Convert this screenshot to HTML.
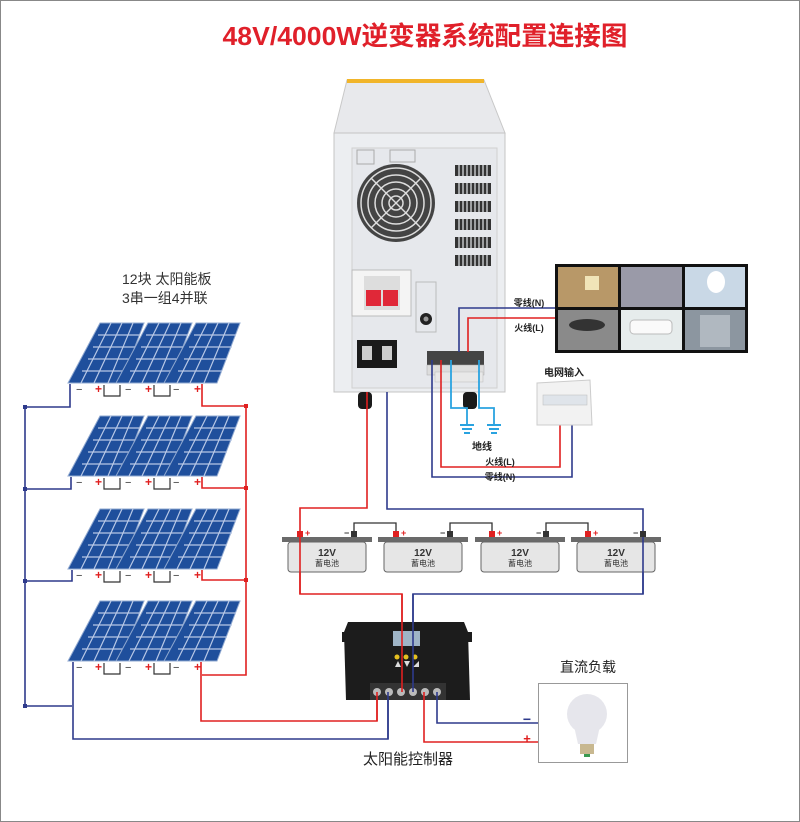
<!DOCTYPE html>
<html><head><meta charset="utf-8"><style>
html,body{margin:0;padding:0;background:#fff}
svg{display:block}
text{font-family:"Liberation Sans","Noto Sans CJK SC",sans-serif}
</style></head><body>
<svg width="800" height="822" viewBox="0 0 800 822" xmlns="http://www.w3.org/2000/svg">
<defs>
<g id="pv">
<polygon points="32,0 76,0 53,60 0,60" fill="#1f4f9c" stroke="#8fa8d0" stroke-width="1"/>
<g stroke="#b8c8e6" stroke-width="1.2" fill="none">
<line x1="30" y1="12" x2="72" y2="12"/><line x1="25" y1="24" x2="68" y2="24"/>
<line x1="20" y1="36" x2="63" y2="36"/><line x1="14" y1="48" x2="58" y2="48"/>
<line x1="43" y1="0" x2="13" y2="60"/><line x1="54" y1="0" x2="26" y2="60"/><line x1="65" y1="0" x2="40" y2="60"/>
</g>
</g>
<g id="row">
<use href="#pv" x="0" y="0"/><use href="#pv" x="48" y="0"/><use href="#pv" x="96" y="0"/>
<text x="8" y="70" font-size="11" fill="#333">−</text><text x="27" y="70" font-size="12" fill="#e02020" font-weight="bold">+</text>
<text x="57" y="70" font-size="11" fill="#333">−</text><text x="77" y="70" font-size="12" fill="#e02020" font-weight="bold">+</text>
<text x="105" y="70" font-size="11" fill="#333">−</text><text x="126" y="70" font-size="12" fill="#e02020" font-weight="bold">+</text>
<polyline points="36,62 36,73 52,73 52,62" fill="none" stroke="#333" stroke-width="1.2"/>
<polyline points="86,62 86,73 102,73 102,62" fill="none" stroke="#333" stroke-width="1.2"/>
</g>
<g id="batt">
<rect x="0" y="0" width="90" height="5" fill="#6a6a6a"/>
<rect x="6" y="5" width="78" height="30" rx="3" fill="#e6e6e6" stroke="#666" stroke-width="1"/>
</g>
<g id="gnd" stroke="#2aa3e0" stroke-width="2"><line x1="-7" y1="0" x2="7" y2="0"/><line x1="-5" y1="4" x2="5" y2="4"/><line x1="-3" y1="8" x2="3" y2="8"/></g>
</defs>
<rect x="0.5" y="0.5" width="799" height="821" fill="#fff" stroke="#888"/>
<text x="425" y="45" font-size="26" font-weight="bold" fill="#e0202a" text-anchor="middle" textLength="405" lengthAdjust="spacingAndGlyphs">48V/4000W逆变器系统配置连接图</text>

<text x="122" y="284" font-size="14" fill="#333">12块  太阳能板</text>
<text x="122" y="303" font-size="14" fill="#333">3串一组4并联</text>

<!-- solar -->
<use href="#row" x="68" y="323"/><use href="#row" x="68" y="416"/><use href="#row" x="68" y="509"/><use href="#row" x="68" y="601"/>
<g fill="none" stroke="#2e3a8c" stroke-width="1.6">
<polyline points="70,384 70,407 25,407 25,706 72,706"/>
<polyline points="71,477 71,489 25,489"/><polyline points="72,570 72,581 25,581"/>
<polyline points="73,662 73,739 388,739 388,700"/>
</g>
<g fill="#2e3a8c"><rect x="23" y="405" width="4" height="4"/><rect x="23" y="487" width="4" height="4"/><rect x="23" y="579" width="4" height="4"/><rect x="23" y="704" width="4" height="4"/></g>
<g fill="none" stroke="#e02020" stroke-width="1.6">
<polyline points="202,384 202,406 246,406 246,675 202,675"/>
<polyline points="202,477 202,488 246,488"/><polyline points="202,570 202,580 246,580"/>
<polyline points="201,662 201,721 377,721 377,700"/>
</g>
<g fill="#e02020"><rect x="244" y="404" width="4" height="4"/><rect x="244" y="486" width="4" height="4"/><rect x="244" y="578" width="4" height="4"/></g>

<!-- inverter -->
<polygon points="347,80 484,80 505,133 334,133" fill="#e8e9ec" stroke="#c8c8c8"/>
<rect x="347" y="79" width="137" height="4" fill="#f1b52a"/>
<rect x="334" y="133" width="171" height="259" fill="#eceef1" stroke="#c4c4c4"/>
<rect x="352" y="148" width="145" height="240" fill="#e6e8ec" stroke="#d0d0d0"/>
<rect x="357" y="150" width="17" height="14" fill="none" stroke="#aaa"/><rect x="390" y="150" width="25" height="12" fill="none" stroke="#aaa"/>
<circle cx="396" cy="203" r="39" fill="#444"/>
<g fill="none" stroke="#ddd" stroke-width="1.5"><circle cx="396" cy="203" r="35"/><circle cx="396" cy="203" r="28"/><circle cx="396" cy="203" r="21"/><circle cx="396" cy="203" r="14"/><circle cx="396" cy="203" r="7"/>
<line x1="371" y1="178" x2="421" y2="228"/><line x1="421" y1="178" x2="371" y2="228"/></g>
<g fill="#333">
<rect x="455" y="165" width="36" height="11"/><rect x="455" y="183" width="36" height="11"/><rect x="455" y="201" width="36" height="11"/>
<rect x="455" y="219" width="36" height="11"/><rect x="455" y="237" width="36" height="11"/><rect x="455" y="255" width="36" height="11"/>
</g>
<g stroke="#e6e8ec" stroke-width="1.2">
<line x1="459" y1="160" x2="459" y2="270"/><line x1="463" y1="160" x2="463" y2="270"/><line x1="467" y1="160" x2="467" y2="270"/><line x1="471" y1="160" x2="471" y2="270"/><line x1="475" y1="160" x2="475" y2="270"/><line x1="479" y1="160" x2="479" y2="270"/><line x1="483" y1="160" x2="483" y2="270"/><line x1="487" y1="160" x2="487" y2="270"/>
</g>
<rect x="352" y="270" width="59" height="46" fill="#f4f4f4" stroke="#bbb"/>
<rect x="364" y="276" width="36" height="34" fill="#ddd"/>
<rect x="366" y="290" width="15" height="16" fill="#e02838"/><rect x="383" y="290" width="15" height="16" fill="#e02838"/>
<rect x="416" y="282" width="20" height="50" fill="none" stroke="#bbb"/>
<circle cx="426" cy="319" r="6" fill="#222"/><circle cx="426" cy="319" r="2.5" fill="#999"/>
<rect x="357" y="340" width="40" height="28" fill="#1a1a1a"/>
<rect x="362" y="346" width="10" height="14" fill="#ccc"/><rect x="382" y="346" width="10" height="14" fill="#ccc"/>
<rect x="427" y="351" width="57" height="14" fill="#444"/>
<rect x="427" y="365" width="57" height="10" fill="#ddd" stroke="#aaa" stroke-width="0.5"/>
<rect x="435" y="372" width="48" height="10" fill="#e8e8e8" stroke="#bbb" stroke-width="0.5"/>
<rect x="358" y="392" width="14" height="17" rx="4" fill="#1a1a1a"/><rect x="463" y="392" width="14" height="17" rx="4" fill="#1a1a1a"/>

<!-- load images -->
<rect x="555" y="264" width="193" height="89" fill="#111"/>
<rect x="558" y="267" width="60" height="40" fill="#b89868"/><rect x="621" y="267" width="61" height="40" fill="#9a9aa8"/><rect x="685" y="267" width="60" height="40" fill="#c9d8e6"/>
<rect x="558" y="310" width="60" height="40" fill="#8a8a8a"/><rect x="621" y="310" width="61" height="40" fill="#e6ecec"/><rect x="685" y="310" width="60" height="40" fill="#8c96a0"/>
<ellipse cx="587" cy="325" rx="18" ry="6" fill="#333"/><rect x="630" y="320" width="42" height="14" rx="4" fill="#fafafa" stroke="#bbb"/>
<rect x="700" y="315" width="30" height="32" fill="#b0b8c0"/><ellipse cx="716" cy="282" rx="9" ry="11" fill="#fff"/><rect x="585" y="276" width="14" height="14" fill="#f0e4b8"/>

<!-- AC wires -->
<polyline points="459,352 459,308 555,308" fill="none" stroke="#2e3a8c" stroke-width="1.6"/>
<polyline points="468,352 468,318 555,318" fill="none" stroke="#e02020" stroke-width="1.6"/>
<text x="529" y="306" font-size="9" font-weight="bold" fill="#222" text-anchor="middle">零线(N)</text>
<text x="529" y="331" font-size="9" font-weight="bold" fill="#222" text-anchor="middle">火线(L)</text>
<polyline points="432,360 432,477 572,477 572,424" fill="none" stroke="#2e3a8c" stroke-width="1.6"/>
<polyline points="441,360 441,467 560,467 560,424" fill="none" stroke="#e02020" stroke-width="1.6"/>
<text x="500" y="465" font-size="9" font-weight="bold" fill="#222" text-anchor="middle">火线(L)</text>
<text x="500" y="480" font-size="9" font-weight="bold" fill="#222" text-anchor="middle">零线(N)</text>
<polyline points="451,360 451,408 467,408 467,424" fill="none" stroke="#2aa3e0" stroke-width="1.8"/>
<polyline points="479,360 479,408 494,408 494,424" fill="none" stroke="#2aa3e0" stroke-width="1.8"/>
<use href="#gnd" x="467" y="425"/><use href="#gnd" x="494" y="425"/>
<text x="482" y="450" font-size="10" font-weight="bold" fill="#222" text-anchor="middle">地线</text>
<text x="564" y="376" font-size="10" font-weight="bold" fill="#222" text-anchor="middle">电网输入</text>
<polygon points="537,383 590,380 592,425 537,425" fill="#f2f2f2" stroke="#ccc"/>
<rect x="543" y="395" width="44" height="10" fill="#dfe4ea" stroke="#bbb" stroke-width="0.5"/>

<!-- battery wires -->
<polyline points="367,392 367,508 300,508 300,594 402,594 402,688" fill="none" stroke="#e02020" stroke-width="1.6"/>
<polyline points="387,392 387,509 643,509 643,594 413,594 413,688" fill="none" stroke="#2e3a8c" stroke-width="1.6"/>
<use href="#batt" x="282" y="537"/><use href="#batt" x="378" y="537"/><use href="#batt" x="475" y="537"/><use href="#batt" x="571" y="537"/>
<g fill="none" stroke="#333" stroke-width="1.3">
<polyline points="354,533 354,523 396,523 396,533"/><polyline points="450,533 450,523 492,523 492,533"/><polyline points="546,533 546,523 588,523 588,533"/>
</g>
<g fill="#e02020"><rect x="297" y="531" width="6" height="6"/><rect x="393" y="531" width="6" height="6"/><rect x="489" y="531" width="6" height="6"/><rect x="585" y="531" width="6" height="6"/></g>
<g fill="#333"><rect x="351" y="531" width="6" height="6"/><rect x="447" y="531" width="6" height="6"/><rect x="543" y="531" width="6" height="6"/><rect x="640" y="531" width="6" height="6"/></g>
<g font-size="9" font-weight="bold"><text x="305" y="536" fill="#e02020">+</text><text x="401" y="536" fill="#e02020">+</text><text x="497" y="536" fill="#e02020">+</text><text x="593" y="536" fill="#e02020">+</text>
<text x="344" y="536" fill="#333">−</text><text x="440" y="536" fill="#333">−</text><text x="536" y="536" fill="#333">−</text><text x="633" y="536" fill="#333">−</text></g>
<g font-size="10" font-weight="bold" fill="#333" text-anchor="middle">
<text x="327" y="556">12V</text><text x="423" y="556">12V</text><text x="520" y="556">12V</text><text x="616" y="556">12V</text></g>
<g font-size="8" fill="#333" text-anchor="middle">
<text x="327" y="566">蓄电池</text><text x="423" y="566">蓄电池</text><text x="520" y="566">蓄电池</text><text x="616" y="566">蓄电池</text></g>
<!-- red/blue pass through batteries -->
<line x1="300" y1="537" x2="300" y2="594" stroke="#e02020" stroke-width="1.6"/>
<line x1="643" y1="537" x2="643" y2="594" stroke="#2e3a8c" stroke-width="1.6"/>

<!-- controller -->
<path d="M348,622 L464,622 L468,632 L470,700 L346,700 L344,632 Z" fill="#1c1c1c"/>
<rect x="342" y="632" width="6" height="10" fill="#1c1c1c"/><rect x="466" y="632" width="6" height="10" fill="#1c1c1c"/>
<rect x="393" y="631" width="27" height="15" fill="#9fb4c6"/>
<circle cx="397" cy="657" r="2.5" fill="#e6c020"/><circle cx="406" cy="657" r="2.5" fill="#e6c020"/><circle cx="415" cy="657" r="2.5" fill="#e6c020"/>
<g fill="#ddd"><polygon points="395,667 398,661 401,667"/><polygon points="404,661 410,661 407,667"/><polygon points="413,667 419,661 419,667"/></g>
<rect x="370" y="683" width="76" height="17" fill="#333"/>
<g fill="#bbb"><circle cx="377" cy="692" r="4"/><circle cx="389" cy="692" r="4"/><circle cx="401" cy="692" r="4"/><circle cx="413" cy="692" r="4"/><circle cx="425" cy="692" r="4"/><circle cx="437" cy="692" r="4"/></g>
<line x1="402" y1="594" x2="402" y2="692" stroke="#e02020" stroke-width="1.6"/>
<line x1="413" y1="594" x2="413" y2="692" stroke="#2e3a8c" stroke-width="1.6"/>
<line x1="377" y1="692" x2="377" y2="721" stroke="#e02020" stroke-width="1.6"/>
<line x1="388" y1="692" x2="388" y2="739" stroke="#2e3a8c" stroke-width="1.6"/>
<polyline points="437,692 437,723 538,723" fill="none" stroke="#2e3a8c" stroke-width="1.6"/>
<polyline points="424,692 424,742 538,742" fill="none" stroke="#e02020" stroke-width="1.6"/>
<text x="408" y="764" font-size="15" fill="#222" text-anchor="middle">太阳能控制器</text>

<!-- bulb -->
<text x="588" y="672" font-size="14" fill="#222" text-anchor="middle">直流负载</text>
<rect x="538.5" y="683.5" width="89" height="79" fill="#fff" stroke="#999"/>
<circle cx="587" cy="714" r="20" fill="#e6e6ec"/>
<path d="M574,726 L600,726 L596,744 L578,744 Z" fill="#e6e6ec"/>
<rect x="580" y="744" width="14" height="10" fill="#c8b890"/>
<rect x="584" y="754" width="6" height="3" fill="#3a9a50"/>
<text x="527" y="724" font-size="14" font-weight="bold" fill="#2e3a8c" text-anchor="middle">−</text>
<text x="527" y="743" font-size="13" font-weight="bold" fill="#e02020" text-anchor="middle">+</text>
</svg>
</body></html>
